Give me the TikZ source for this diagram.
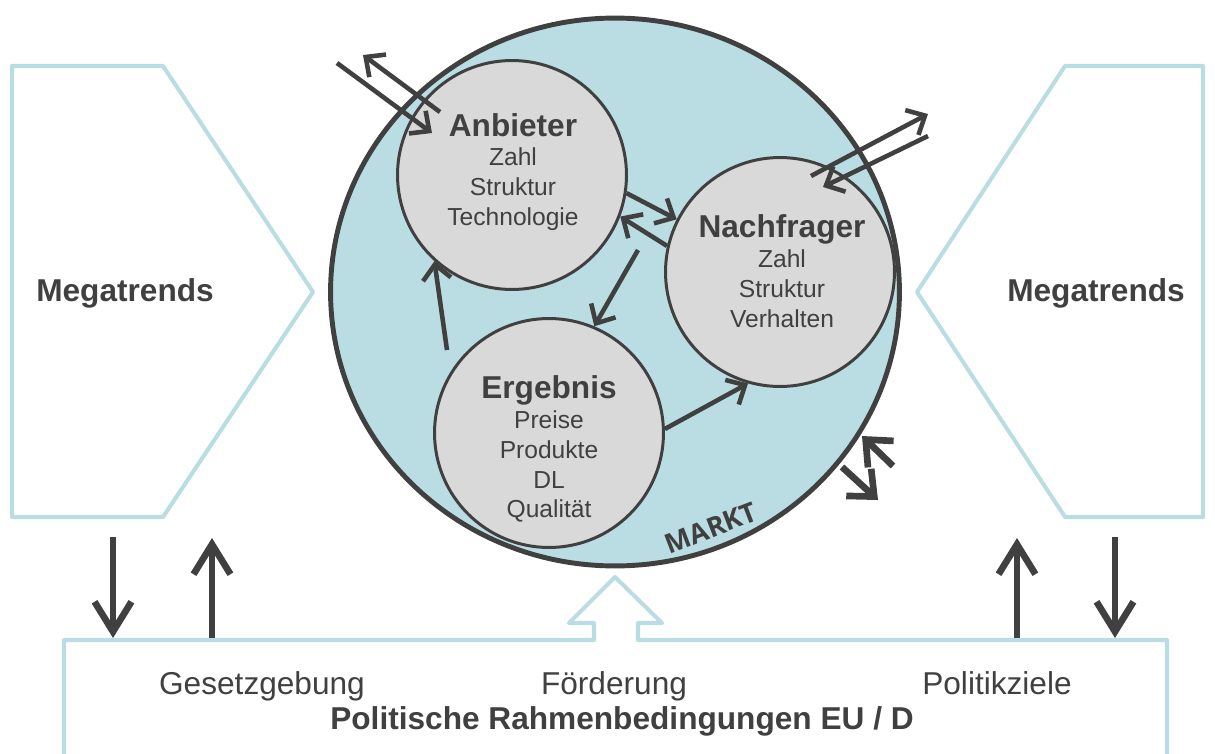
\documentclass[tikz,border=0pt]{standalone}
\usepackage{fontspec}
\setmainfont{Liberation Sans}
\newfontfamily\marktfont{Open Sans}
\usepackage{tikz}
\usetikzlibrary{arrows.meta,shapes.geometric}
\definecolor{dunkel}{HTML}{404040}
\definecolor{hellblau}{HTML}{B9DDE2}
\definecolor{hellgrau}{HTML}{D9D9D9}
\tikzstyle{kreis}=[circle,draw=dunkel,fill=hellgrau,line width=1.7pt,minimum size=4.58cm,inner sep=0pt]
\tikzstyle{txt}=[text=dunkel,align=center,font=\fontsize{14}{17}\selectfont]
\tikzstyle{rahmen}=[draw=hellblau,line width=2.3pt,line join=round]

\begin{document}
\begin{tikzpicture}[x=0.02cm,y=-0.02cm]

\tikzstyle{pfeil}=[-{Straight Barb[length=8.5pt,width=16pt]},draw=dunkel,line width=2.6pt]
\tikzstyle{dickpfeil}=[-{Straight Barb[length=17pt,width=21pt]},draw=dunkel,line width=3.8pt]
\tikzstyle{randpfeil}=[-{Straight Barb[length=12pt,width=21pt]},draw=dunkel,line width=3.8pt]
\tikzstyle{unten}=[txt,anchor=base,font=\fontsize{18}{20}\selectfont]
\newcommand{\titel}[1]{{\fontsize{18}{20}\selectfont\bfseries #1}}

\useasboundingbox (0,0) rectangle (1215,754);

% Megatrends links und rechts
\draw [rahmen] (12,66) -- (163,66) -- (313,292) -- (163,517) -- (12,517) -- cycle;
\draw [rahmen] (1203,66) -- (1065,66) -- (917,292) -- (1065,517) -- (1203,517) -- cycle;
\node (mega-l) [txt] at (125,293) {\titel{Megatrends}};
\node (mega-r) [txt] at (1096,293) {\titel{Megatrends}};

% Rahmenbedingungen
\draw [rahmen] (64,754) -- (64,640) -- (594,640) -- (594,623) -- (569,623) -- (615,577)
  -- (662,623) -- (638,623) -- (638,640) -- (1167,640) -- (1167,754);
\node (gesetz) [unten] at (262,694) {Gesetzgebung};
\node (foerder) [unten] at (614,694) {Förderung};
\node (ziele) [unten] at (997,694) {Politikziele};
\node (rahmen) [txt,anchor=base] at (622,729) {\titel{Politische Rahmenbedingungen EU / D}};

% Markt
\node (markt) [ellipse,draw=dunkel,fill=hellblau,line width=2.8pt,minimum width=11.38cm,minimum height=10.96cm] at (615,292) {};
\node (markt-txt) [text=dunkel,rotate=21,inner sep=0pt,font=\marktfont\bfseries\fontsize{15.5}{17}\selectfont] at (711,528) {MARKT};

\node (anbieter) [kreis] at (512,175) {};
\node (nachfrager) [kreis] at (780,272) {};
\node (ergebnis) [kreis] at (549,433) {};

\node (anb-txt) [txt] at (513,172) {\titel{Anbieter}\\ Zahl\\ Struktur\\ Technologie};
\node (nach-txt) [txt] at (782,271) {\titel{Nachfrager}\\ Zahl\\ Struktur\\ Verhalten};
\node (erg-txt) [txt] at (549,449) {\titel{Ergebnis}\\ Preise\\ Produkte\\ DL\\ Qualität};

\coordinate (w1) at (337,63);
\coordinate (w2) at (432,133);
\coordinate (w3) at (440,112);
\coordinate (w4) at (363,55);
\coordinate (o1) at (811,176);
\coordinate (o2) at (928,114);
\coordinate (o3) at (928,136);
\coordinate (o4) at (823,187);
\coordinate (s1) at (893,466);
\coordinate (s2) at (862,436);
\coordinate (s3) at (842,467);
\coordinate (s4) at (878,500);
\coordinate (ae) at (638,250);
\coordinate (ea) at (447,350);

\draw [pfeil] (w1) -- (w2);
\draw [pfeil] (w3) -- (w4);
\draw [pfeil] (o1) -- (o2);
\draw [pfeil] (o3) -- (o4);
\draw [pfeil] (anbieter.-9) -- (nachfrager.153);
\draw [pfeil] (nachfrager.167) -- (anbieter.-21);
\draw [pfeil] (ae) -- (ergebnis.67);
\draw [pfeil] (ea) -- (anbieter.-132);
\draw [pfeil] (ergebnis.2) -- (nachfrager.-106);
\draw [randpfeil] (s1) -- (s2);
\draw [randpfeil] (s3) -- (s4);

% Pfeile unten
\coordinate (gl-o) at (113,537);
\coordinate (gl-u) at (113,638);
\coordinate (gr-o) at (212,538);
\coordinate (gr-u) at (212,638);
\coordinate (pl-o) at (1017,538);
\coordinate (pl-u) at (1017,638);
\coordinate (pr-o) at (1115,537);
\coordinate (pr-u) at (1115,638);
\draw [dickpfeil] (gl-o) -- (gl-u);
\draw [dickpfeil] (gr-u) -- (gr-o);
\draw [dickpfeil] (pl-u) -- (pl-o);
\draw [dickpfeil] (pr-o) -- (pr-u);

\end{tikzpicture}
\end{document}
